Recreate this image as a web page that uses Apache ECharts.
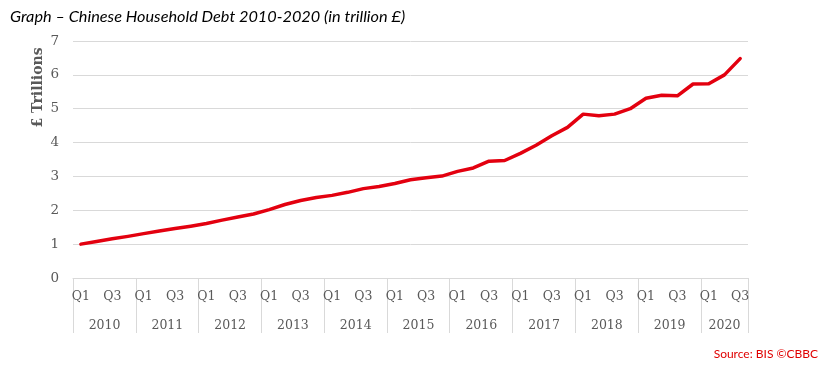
<!DOCTYPE html>
<html><head><meta charset="utf-8">
<script src="https://cdn.jsdelivr.net/npm/echarts@6/dist/echarts.min.js"></script>
<style>html,body{margin:0;padding:0;background:#fff}#c{width:828px;height:365px}</style>
</head><body><div id="c"></div>
<script>
const years = ['2010','2011','2012','2013','2014','2015','2016','2017','2018','2019','2020'];
const quarterNames = ['Q1','Q2','Q3','Q4'];
const quartersPerYear = [4,4,4,4,4,4,4,4,4,4,3];
// Household debt, trillion £, quarterly from 2010 Q1 to 2020 Q3
const debt = [1.00,1.08,1.16,1.23, 1.31,1.39,1.46,1.53, 1.61,1.71,1.80,1.89, 2.02,2.17,2.29,2.38,
              2.44,2.53,2.64,2.70, 2.79,2.90,2.96,3.01, 3.15,3.25,3.45,3.47, 3.68,3.92,4.20,4.45,
              4.84,4.79,4.84,5.00, 5.31,5.40,5.38,5.73, 5.74,6.00,6.48];
const yMin = 0, yMax = 7, yStep = 1;

const categories = [];
years.forEach((y, yi) => {
  for (let q = 0; q < quartersPerYear[yi]; q++) categories.push(y + ' ' + quarterNames[q]);
});
const yearOf = categories.map(c => c.split(' ')[0]);
const posInYear = categories.map(c => quarterNames.indexOf(c.split(' ')[1]));

const gray = '#d9d9d9';
const txt = '#595959';
const serif = 'DejaVu Serif';

const chart = echarts.init(document.getElementById('c'), null, {renderer: 'canvas'});
chart.setOption({
  animation: false,
  title: [
    {text: 'Graph \u2013 Chinese Household Debt 2010-2020 (in trillion \u00a3)', left: 5, top: 4,
     textStyle: {fontFamily: 'Lato', fontStyle: 'italic', fontWeight: 'normal', fontSize: 16.3, color: '#000'}},
    {text: 'Source: BIS \u00a9CBBC', right: 5, top: 343,
     textStyle: {fontFamily: 'Lato', fontWeight: 'normal', fontSize: 12, color: '#e00000'}}
  ],
  grid: {left: 73, right: 80, top: 41, bottom: 87, containLabel: false},
  xAxis: [
    {type: 'category', data: categories, position: 'bottom', boundaryGap: true,
     axisLine: {show: true, onZero: false, lineStyle: {color: gray, width: 1}},
     axisTick: {show: false},
     axisLabel: {interval: 1, margin: 12, fontFamily: serif, fontSize: 12.5, color: txt,
                 formatter: v => v.split(' ')[1]}},
    {type: 'category', data: categories, position: 'bottom', boundaryGap: true,
     axisLine: {show: false, onZero: false},
     axisTick: {show: true, length: 55, lineStyle: {color: gray, width: 1},
                interval: (i) => posInYear[i] === 0},
     axisLabel: {interval: 0, margin: 41, color: txt,
                 formatter: (v, i) => {
                   if (posInYear[i] !== 1) return '';
                   const yi = years.indexOf(yearOf[i]);
                   return quartersPerYear[yi] === 4 ? '{s|' + yearOf[i] + '}' : '{c|' + yearOf[i] + '}';
                 },
                 rich: {
                   s: {fontFamily: serif, fontSize: 12.5, color: txt, padding: [0, 0, 0, 16]},
                   c: {fontFamily: serif, fontSize: 12.5, color: txt}
                 }}}
  ],
  yAxis: {
    type: 'value', min: yMin, max: yMax, interval: yStep,
    name: '\u00a3 Trillions', nameLocation: 'middle', nameGap: 28, nameRotate: 90, nameMoveOverlap: false,
    nameTextStyle: {fontFamily: serif, fontWeight: 'bold', fontSize: 14, color: txt, padding: [0, 0, 0, 144]},
    axisLine: {show: false}, axisTick: {show: false},
    axisLabel: {margin: 14, fontFamily: serif, fontSize: 13.5, color: txt},
    splitLine: {lineStyle: {color: gray, width: 1}}
  },
  series: [{
    type: 'line', data: debt, xAxisIndex: 0, showSymbol: false, symbol: 'none',
    lineStyle: {color: '#e3000f', width: 3.5, cap: 'round', join: 'round'},
    itemStyle: {color: '#e3000f'}
  }]
});
</script></body></html>
